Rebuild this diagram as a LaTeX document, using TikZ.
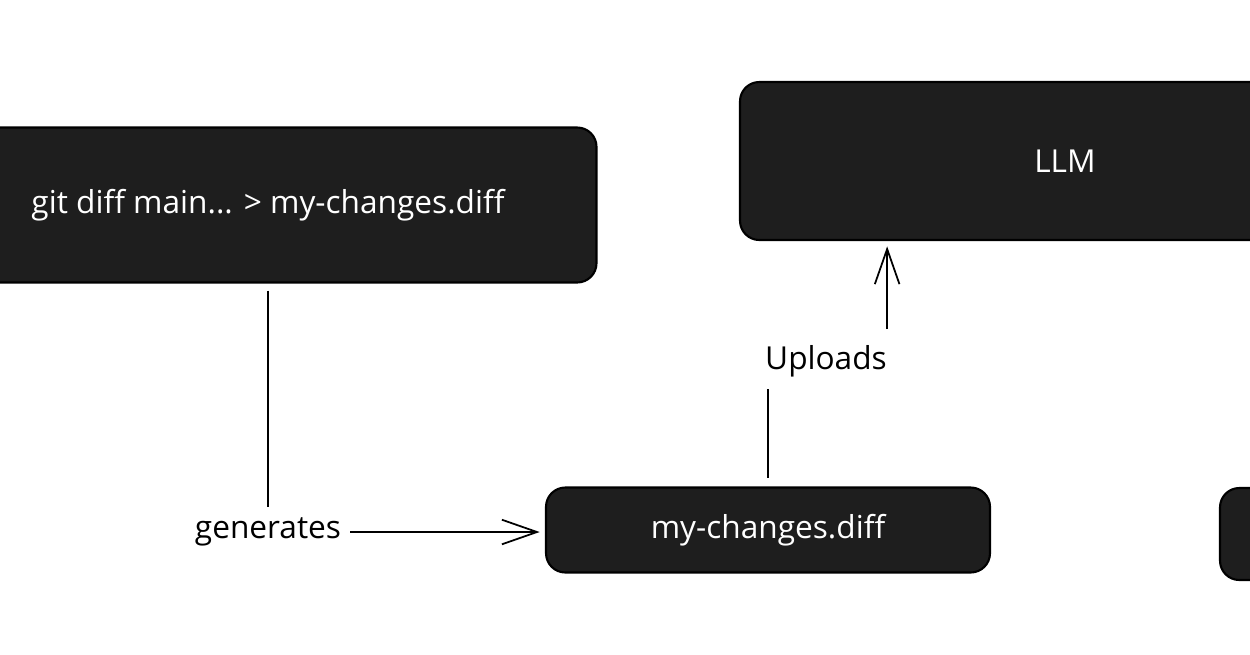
\documentclass[tikz,border=0pt]{standalone}
\usepackage{fontspec}
\setmainfont{Open Sans}
\usetikzlibrary{arrows.meta, positioning, calc}

\begin{document}
\begin{tikzpicture}[
    x=0.02cm, y=-0.02cm,
    block/.style={rectangle, draw=black, line width=1.2pt, fill={rgb,255:red,30;green,30;blue,30}, rounded corners=11pt, text=white, align=center, font=\fontsize{18}{21}\selectfont},
    lbl/.style={inner sep=0pt, font=\fontsize{18}{21}\selectfont},
    arrow/.style={-{Straight Barb[length=20pt, width=14pt, line width=1pt]}, line width=1pt},
    link/.style={line width=1pt}
]
\clip (0,0) rectangle (1250,654);
\fill[white] (0,0) rectangle (1250,654);

\node[block, minimum width=657*0.02cm, minimum height=155*0.02cm] (git)  at (268, 205) {git diff main... > my-changes.diff};
\node[block, minimum width=650*0.02cm, minimum height=158*0.02cm] (llm)  at (1065, 161) {LLM};
\node[block, minimum width=444*0.02cm, minimum height=85*0.02cm]  (diff) at (768, 530) {my-changes.diff};
\node[block, minimum width=300*0.02cm, minimum height=92*0.02cm]  (next) at (1370, 534) {};

\node[lbl] (gen) at (268, 532) {generates};
\node[lbl] (up)  at (826, 361) {Uploads};

% Edges
\draw[link, shorten <=4pt, shorten >=6pt] (git.south -| gen.north) -- (gen.north);
\draw[arrow, shorten <=5pt, shorten >=3pt] (gen.east) -- (gen.east -| diff.west);

\draw[link, shorten <=5pt, shorten >=7pt] (diff.north) -- (diff.north |- up.south);
\draw[arrow, shorten <=9pt, shorten >=3pt] (up.north east) -- (up.north east |- llm.south);

\end{tikzpicture}
\end{document}
